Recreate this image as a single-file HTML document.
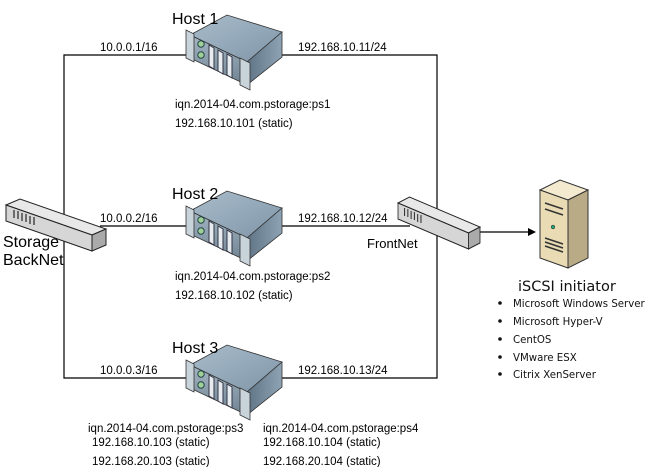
<!DOCTYPE html>
<html><head><style>
body{margin:0;background:#fff;}
svg{display:block;font-family:"Liberation Sans",sans-serif;}
</style></head><body>
<svg width="652" height="467" viewBox="0 0 652 467">
<defs>
<linearGradient id="top" x1="0" y1="0" x2="1" y2="1"><stop offset="0" stop-color="#a9bccb"/><stop offset="1" stop-color="#7f96a8"/></linearGradient>
<linearGradient id="side" x1="0" y1="0" x2="1" y2="0"><stop offset="0" stop-color="#5f7486"/><stop offset="1" stop-color="#8ea3b3"/></linearGradient>
<linearGradient id="front" x1="0" y1="0" x2="0" y2="1"><stop offset="0" stop-color="#a5b6c3"/><stop offset="1" stop-color="#6f8393"/></linearGradient>
<g id="srv">
<polygon points="190,365 227,345 282,362 247,392" fill="url(#top)" stroke="#333" stroke-width="0.8"/>
<polygon points="247,392 282,362 282,387 247,415" fill="url(#side)" stroke="#333" stroke-width="0.8"/>
<polygon points="190,365 247,392 247,415 190,388" fill="url(#front)" stroke="#333" stroke-width="0.8"/>
<polygon points="186,360 194,364 194,392 186,388" fill="#c9d3da" stroke="#333" stroke-width="0.8"/>
<polygon points="240,388 250,393 250,420 240,415" fill="#c9d3da" stroke="#333" stroke-width="0.8"/>
<circle cx="201" cy="374" r="3.2" fill="#9fd09a" stroke="#244" stroke-width="1"/>
<circle cx="201" cy="385" r="3.2" fill="#9fd09a" stroke="#244" stroke-width="1"/>
<polygon points="209,375 214,378 214,399 209,396" fill="#e6ecef" stroke="#334"/>
<polygon points="218,380 223,383 223,404 218,401" fill="#e6ecef" stroke="#334"/>
<polygon points="227,384 232,387 232,408 227,405" fill="#e6ecef" stroke="#334"/>
</g>
<g id="sw">
<polygon points="0,0 14,-6 100,24 86,30" fill="#e8e8e8" stroke="#222"/>
<polygon points="86,30 100,24 100,40 86,46" fill="#aaa" stroke="#222"/>
<polygon points="0,0 86,30 86,46 0,16" fill="#d6d6d6" stroke="#222"/>
<g stroke="#333" stroke-width="1.3"><line x1="8" y1="5" x2="8" y2="13"/><line x1="12" y1="6" x2="12" y2="14"/><line x1="16" y1="8" x2="16" y2="16"/><line x1="20" y1="9" x2="20" y2="17"/><line x1="24" y1="11" x2="24" y2="19"/><line x1="28" y1="12" x2="28" y2="20"/></g>
</g>
</defs>
<g stroke="#000" stroke-width="1.2" fill="none">
<polyline points="190,55 64,55 64,378 190,378"/>
<line x1="100" y1="226" x2="190" y2="226"/>
<polyline points="282,55 437,55 437,378 282,378"/>
<line x1="282" y1="226" x2="410" y2="226"/>
<line x1="478" y1="232" x2="528" y2="232"/>
</g>
<polygon points="528,228 536,232 528,236" fill="#000"/>
<use href="#srv" transform="translate(0,-330)"/>
<use href="#srv" transform="translate(0,-154)"/>
<use href="#srv"/>
<use href="#sw" transform="translate(6,205)"/>
<use href="#sw" transform="translate(398,203) scale(0.82,1)"/>
<polygon points="540,190 560,180 588,190 568,200" fill="#f3ead0" stroke="#333"/>
<polygon points="568,200 588,190 588,258 568,268" fill="#b8ab85" stroke="#333"/>
<polygon points="540,190 568,200 568,268 540,258" fill="#e9dcb4" stroke="#333"/>
<g stroke="#333" stroke-width="1.5"><line x1="545" y1="203" x2="563" y2="209"/><line x1="545" y1="209" x2="563" y2="215"/><line x1="545" y1="238" x2="563" y2="244"/><line x1="545" y1="242" x2="563" y2="248"/><line x1="545" y1="246" x2="563" y2="252"/></g>
<circle cx="553" cy="227" r="1.8" fill="#2a7" stroke="#333" stroke-width="0.6"/>
<g font-size="16"><text x="172" y="24">Host 1</text><text x="172" y="199">Host 2</text><text x="172" y="353">Host 3</text>
<text x="3" y="247">Storage</text><text x="3" y="265">BackNet</text>
<text x="367" y="248" font-size="13">FrontNet</text></g>
<g font-size="11.5">
<text x="100" y="51">10.0.0.1/16</text><text x="298" y="51">192.168.10.11/24</text>
<text x="100" y="222">10.0.0.2/16</text><text x="298" y="222">192.168.10.12/24</text>
<text x="100" y="374">10.0.0.3/16</text><text x="298" y="374">192.168.10.13/24</text>
<text x="175" y="108">iqn.2014-04.com.pstorage:ps1</text><text x="175" y="127">192.168.10.101 (static)</text>
<text x="175" y="280">iqn.2014-04.com.pstorage:ps2</text><text x="175" y="299">192.168.10.102 (static)</text>
<text x="88" y="432">iqn.2014-04.com.pstorage:ps3</text><text x="92" y="446">192.168.10.103 (static)</text><text x="92" y="465">192.168.20.103 (static)</text>
<text x="263" y="432">iqn.2014-04.com.pstorage:ps4</text><text x="263" y="446">192.168.10.104 (static)</text><text x="263" y="465">192.168.20.104 (static)</text>
</g>
<g font-family="DejaVu Sans, sans-serif" fill="#111">
<text x="518" y="291" font-size="14.5">iSCSI initiator</text>
<g font-size="10.2"><text x="513" y="307">Microsoft Windows Server</text><text x="513" y="325">Microsoft Hyper-V</text><text x="513" y="343">CentOS</text><text x="513" y="361">VMware ESX</text><text x="513" y="378">Citrix XenServer</text></g>
<g><circle cx="500" cy="303" r="1.8"/><circle cx="500" cy="321" r="1.8"/><circle cx="500" cy="339" r="1.8"/><circle cx="500" cy="357" r="1.8"/><circle cx="500" cy="374" r="1.8"/></g>
</g>
</svg>
</body></html>
